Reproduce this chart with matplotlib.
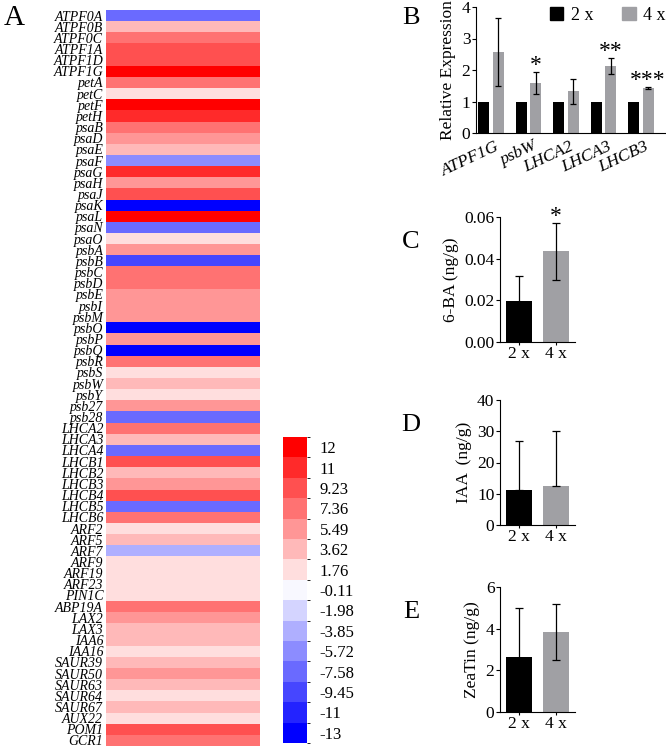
import numpy as np
import matplotlib
matplotlib.use("Agg")
import matplotlib.pyplot as plt
from matplotlib.colors import ListedColormap, BoundaryNorm
from matplotlib.cm import ScalarMappable
from matplotlib.patches import Patch

plt.rcParams['font.family'] = ['Liberation Serif', 'DejaVu Serif']

# ---------------- data ----------------
genes = ["ATPF0A", "ATPF0B", "ATPF0C", "ATPF1A", "ATPF1D", "ATPF1G", "petA", "petC", "petF", "petH",
         "psaB", "psaD", "psaE", "psaF", "psaG", "psaH", "psaJ", "psaK", "psaL", "psaN", "psaO",
         "psbA", "psbB", "psbC", "psbD", "psbE", "psbI", "psbM", "psbO", "psbP", "psbQ", "psbR",
         "psbS", "psbW", "psbY", "psb27", "psb28",
         "LHCA2", "LHCA3", "LHCA4", "LHCB1", "LHCB2", "LHCB3", "LHCB4", "LHCB5", "LHCB6",
         "ARF2", "ARF5", "ARF7", "ARF9", "ARF19", "ARF23", "PIN1C", "ABP19A", "LAX2", "LAX3",
         "IAA6", "IAA16", "SAUR39", "SAUR50", "SAUR63", "SAUR64", "SAUR67", "AUX22", "POM1", "GCR1"]
heat_values = [-7.58, 3.62, 7.36, 9.23, 9.23, 12, 7.36, 1.76, 12, 11,
               7.36, 5.49, 3.62, -5.72, 11, 5.49, 9.23, -13, 12, -7.58, 1.76,
               5.49, -9.45, 7.36, 7.36, 5.49, 5.49, 5.49, -13, 5.49, -13, 7.36,
               1.76, 3.62, 1.76, 5.49, -7.58,
               7.36, 3.62, -7.58, 9.23, 3.62, 5.49, 9.23, -7.58, 7.36,
               1.76, 3.62, -3.85, 1.76, 1.76, 1.76, 1.76, 7.36, 5.49, 3.62,
               3.62, 1.76, 3.62, 5.49, 3.62, 1.76, 3.62, 1.76, 9.23, 7.36]
levels = [-13, -11, -9.45, -7.58, -5.72, -3.85, -1.98, -0.11, 1.76, 3.62, 5.49, 7.36, 9.23, 11, 12]
level_labels = ["-13", "-11", "-9.45", "-7.58", "-5.72", "-3.85", "-1.98", "-0.11",
                "1.76", "3.62", "5.49", "7.36", "9.23", "11", "12"]
level_colors = ['#0000ff', '#2323ff', '#4646ff', '#6a6aff', '#8c8cff', '#afafff', '#d4d4ff', '#f8f8ff',
                '#ffdede', '#ffb9b9', '#ff9696', '#ff7272', '#ff5050', '#ff2a2a', '#ff0000']

qpcr_genes = ["ATPF1G", "psbW", "LHCA2", "LHCA3", "LHCB3"]
qpcr_2x = [1, 1, 1, 1, 1]
qpcr_4x = [2.57, 1.58, 1.32, 2.12, 1.43]
qpcr_4x_err = [1.07, 0.35, 0.40, 0.25, 0.02]
qpcr_sig = ["", "*", "", "**", "***"]

groups = ["2 x", "4 x"]
ba_mean = [0.0198, 0.0435]
ba_err = [0.0117, 0.0136]
ba_sig = ["", "*"]
iaa_mean = [11.2, 12.6]
iaa_err = [15.6, 17.4]
zt_mean = [2.65, 3.83]
zt_err = [2.33, 1.35]

BLACK = '#000000'
GREY = '#a0a0a4'

W, H = 666, 750
fig = plt.figure(figsize=(W / 100, H / 100), dpi=100)


def px_axes(x0, y0, x1, y1):
    return fig.add_axes([x0 / W, 1 - y1 / H, (x1 - x0) / W, (y1 - y0) / H])


# ---------------- A: heatmap ----------------
cmap = ListedColormap(level_colors)
lv = np.array(levels, dtype=float)
bounds = np.concatenate([[lv[0] - 1], (lv[:-1] + lv[1:]) / 2, [lv[-1] + 1]])
norm = BoundaryNorm(bounds, cmap.N)

axA = px_axes(106, 10, 260, 746)
data = np.array(heat_values, dtype=float).reshape(-1, 1)
axA.pcolormesh(np.arange(2), np.arange(len(genes) + 1), data, cmap=cmap, norm=norm)
axA.set_ylim(len(genes), 0)
axA.set_xlim(0, 1)
axA.set_yticks(np.arange(len(genes)) + 0.5)
axA.set_yticklabels(genes, fontstyle='italic', fontsize=10)
axA.tick_params(axis='y', length=0, pad=2)
axA.set_xticks([])
for s in axA.spines.values():
    s.set_visible(False)

caxA = px_axes(283, 437, 307, 743)
sm = ScalarMappable(norm=norm, cmap=cmap)
cb = fig.colorbar(sm, cax=caxA, spacing='uniform')
centers = (bounds[:-1] + bounds[1:]) / 2
cb.set_ticks(centers)
cb.set_ticklabels(level_labels)
cb.ax.tick_params(length=0, labelsize=12, pad=9)
cb.outline.set_visible(False)

fig.text(14 / W, 1 - 18 / H, "A", fontsize=21, ha='center', va='center')

# ---------------- B: qPCR ----------------
axB = px_axes(476, 7, 665, 133)
x = np.arange(len(qpcr_genes))
off, bw = 0.19, 0.29
axB.bar(x - off, qpcr_2x, bw, color=BLACK)
axB.bar(x + off, qpcr_4x, bw, color=GREY)
axB.errorbar(x + off, qpcr_4x, yerr=qpcr_4x_err, fmt='none', ecolor='black', elinewidth=0.9,
             capsize=2.5, capthick=0.9)
for xi, m, e, s in zip(x, qpcr_4x, qpcr_4x_err, qpcr_sig):
    if s:
        axB.text(xi + off, m + e - 0.12, s, ha='center', va='bottom', fontsize=17)
axB.set_ylim(0, 4)
axB.set_xlim(-0.4, 4.64)
axB.set_yticks([0, 1, 2, 3, 4])
axB.set_xticks(x + 0.1)
axB.set_xticklabels(qpcr_genes, rotation=25, ha='right', fontstyle='italic', fontsize=12.5,
                    rotation_mode='anchor')
axB.tick_params(axis='x', length=0, pad=4)
axB.tick_params(axis='y', length=3, labelsize=12.5, pad=1)
axB.spines['top'].set_visible(False)
axB.spines['right'].set_visible(False)
axB.set_ylabel("Relative Expression", fontsize=12.5, labelpad=4)
leg = axB.legend(handles=[Patch(color=BLACK, label="2 x"), Patch(color=GREY, label="4 x")],
                 ncol=2, frameon=False, fontsize=13, loc='upper right',
                 bbox_to_anchor=(1.04, 1.06), borderaxespad=0, handlelength=0.75,
                 handleheight=0.75, columnspacing=1.6, handletextpad=0.4)

fig.text(411 / W, 1 - 18 / H, "B", fontsize=19, ha='center', va='center')


# ---------------- C, D, E: hormones ----------------
def hormone(y0, y1, means, err_lo, err_hi, ymax, yticks, ticklabels, ylabel, sig=None, letter=""):
    ax = px_axes(500, y0, 575, y1)
    xs = np.arange(len(groups))
    ax.bar(xs, means, 0.7, color=[BLACK, GREY])
    ax.errorbar(xs, means, yerr=[err_lo, err_hi], fmt='none', ecolor='black', elinewidth=0.9,
                capsize=3, capthick=0.9)
    if sig:
        for xi, m, e, s in zip(xs, means, err_hi, sig):
            if s:
                ax.text(xi, m + e - ymax * 0.03, s, ha='center', va='bottom', fontsize=17)
    ax.set_xlim(-0.51, 1.51)
    ax.set_ylim(0, ymax)
    ax.set_yticks(yticks)
    ax.set_yticklabels(ticklabels)
    ax.set_xticks(xs)
    ax.set_xticklabels(groups)
    ax.tick_params(axis='both', length=3, labelsize=12.5, pad=1)
    ax.tick_params(axis='x', length=2)
    ax.spines['top'].set_visible(False)
    ax.spines['right'].set_visible(False)
    ax.set_ylabel(ylabel, fontsize=12.5, labelpad=4)
    fig.text(411 / W, 1 - (y0 + 25) / H, letter, fontsize=19, ha='center', va='center')
    return ax


hormone(217, 342, ba_mean, ba_err, ba_err, 0.06, [0, 0.02, 0.04, 0.06],
        ["0.00", "0.02", "0.04", "0.06"], "6-BA (ng/g)", sig=ba_sig, letter="C")
hormone(400, 525, iaa_mean, [0, 0], iaa_err, 40, [0, 10, 20, 30, 40],
        ["0", "10", "20", "30", "40"], "IAA  (ng/g)", letter="D")
hormone(587, 712, zt_mean, zt_err, zt_err, 6, [0, 2, 4, 6],
        ["0", "2", "4", "6"], "ZeaTin (ng/g)", letter="E")

fig.savefig("out.png", dpi=100)
